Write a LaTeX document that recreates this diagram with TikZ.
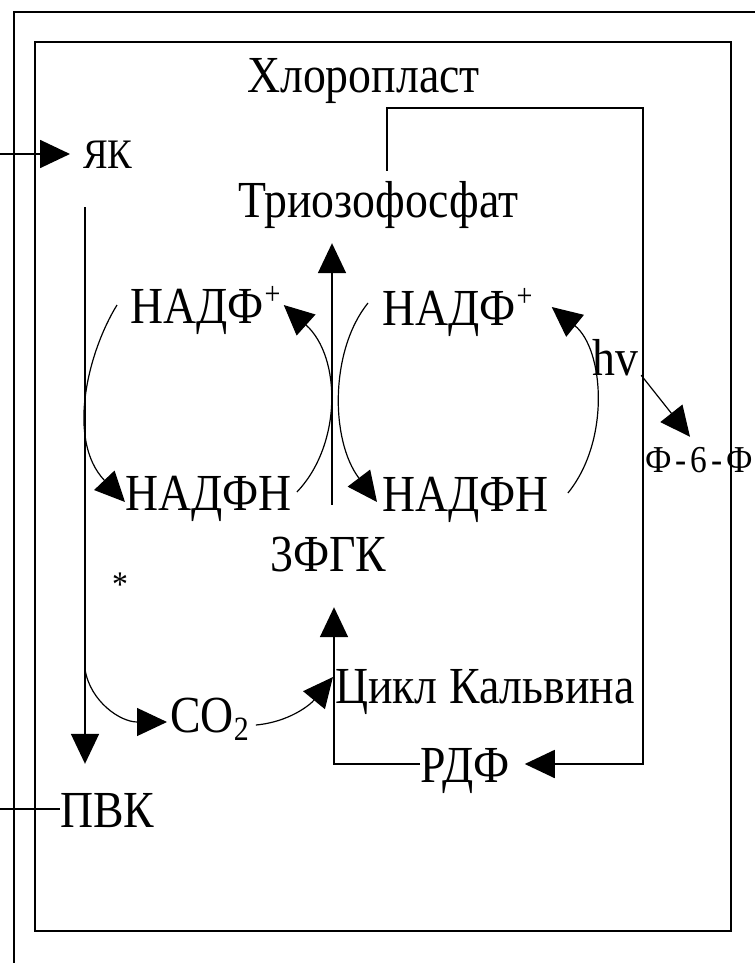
\documentclass[tikz,border=0pt]{standalone}
\usepackage{fontspec}
\setmainfont{Liberation Serif}[FakeStretch=0.88]
\usetikzlibrary{arrows.meta}

\tikzset{
  lbl/.style={inner sep=0pt, anchor=base west, text height=36pt, text depth=0pt,
    font=\fontsize{52}{56}\selectfont},
  frame/.style={line width=2.2pt},
  conn/.style={line width=1.8pt},
  arc/.style={line width=1.2pt},
  tip/.style={-{Triangle[length=30pt,width=28pt]}},
}
\newcommand{\plusup}{\kern1pt\raisebox{19pt}{\fontsize{32}{34}\selectfont +}}
\newcommand{\subtwo}{\raisebox{-8pt}{\fontsize{34}{36}\selectfont 2}}

\begin{document}
\begin{tikzpicture}[x=1pt,y=-1pt]
  \useasboundingbox (0,0) rectangle (755,963);
  \coordinate (edge) at (0,0);

  %--- cell and chloroplast ---
  \draw[frame] (14,963) -- (14,12) -- (755,12);
  \draw[frame] (35,42) rectangle (731,931);

  %--- labels ---
  \node[lbl] (chloro) at (247,93) {Хлоропласт};
  \node[lbl, text height=28pt, font=\fontsize{42}{44}\selectfont] (yak) at (83,168) {ЯК};
  \node[lbl] (trio) at (238,217) {Триозофосфат};
  \node[lbl] (nadpL) at (130,323) {НАДФ\plusup};
  \node[lbl] (nadpR) at (382,325) {НАДФ\plusup};
  \node[lbl] (hv) at (592,375) {hv};
  \node[lbl, text height=30pt, font=\fontsize{38}{40}\selectfont] (f6f) at (645,472) {Ф\kern4pt-\kern4pt6\kern4pt-\kern4ptФ};
  \node[lbl] (nadphL) at (125,510) {НАДФН};
  \node[lbl] (nadphR) at (382,511) {НАДФН};
  \node[lbl] (fgk) at (270,571) {3ФГК};
  \node[inner sep=0pt, anchor=base, font=\fontsize{36}{40}\selectfont] (star) at (120,596) {*};
  \node[lbl] (calvin) at (335,703) {Цикл Кальвина};
  \node[lbl] (co2) at (170,732) {CO\subtwo};
  \node[lbl] (rdf) at (420,782) {РДФ};
  \node[lbl] (pvk) at (60,827) {ПВК};

  %--- glycolysis line ---
  \draw[conn,tip] (yak.west -| edge) -- ([xshift=-13pt]yak.west);
  \draw[conn,tip] ([shift={(2,39)}]yak.south west) -- coordinate[pos=0.83] (branch) ([shift={(25,-27)}]pvk.north west);
  \draw[conn] (pvk.west -| edge) -- (pvk.west);

  %--- Calvin cycle ---
  \coordinate (loop) at (643,108);
  \draw[conn,tip] ([shift={(62,-30)}]fgk.north west) -- ([shift={(94,26)}]trio.south west);
  \draw[conn,tip] ([shift={(149,-10)}]trio.north west) |- (loop) |- ([xshift=15pt]rdf.east);
  \draw[conn,tip] (rdf.west) -| ([shift={(64,36)}]fgk.south west);

  %--- NADP shuttles ---
  \draw[arc,tip] ([xshift=-13pt]nadpL.west) .. controls +(-29,47) and +(-59,-62) .. ([yshift=-10pt]nadphL.west);
  \draw[arc,tip] ([xshift=5pt]nadphL.east) .. controls +(45,-47) and +(58,52) .. ([xshift=3pt]nadpL.east);
  \draw[arc,tip] ([shift={(-14,-4)}]nadpR.west) .. controls +(-38,47) and +(-47,-62) .. ([shift={(-5,9)}]nadphR.west);
  \draw[arc,tip] ([xshift=19pt]nadphR.east) .. controls +(43,-53) and +(52,42) .. ([xshift=19pt]nadpR.east);
  \draw[arc,tip] ([xshift=3pt]hv.south east) -- ([shift={(45,-5)}]f6f.north west);

  %--- CO2 ---
  \draw[arc,tip] (branch) .. controls +(5,32) and +(-47,0) .. ([shift={(-3,8)}]co2.west);
  \draw[arc,tip] ([shift={(7,11)}]co2.east) .. controls +(33,-3) and +(-23,28) .. ([shift={(-2,-8)}]calvin.west);
\end{tikzpicture}
\end{document}
